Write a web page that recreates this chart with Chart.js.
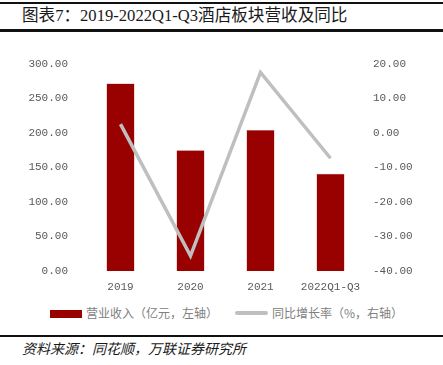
<!DOCTYPE html>
<html>
<head>
<meta charset="utf-8">
<script src="https://cdn.jsdelivr.net/npm/chart.js@4.4.0/dist/chart.umd.min.js"></script>
<style>
  html, body { margin:0; padding:0; background:#fff; }
  #wrap { position:relative; width:443px; height:365px; overflow:hidden; font-family:"Noto Sans CJK SC", sans-serif; }
  .rule { position:absolute; left:0; width:443px; background:#111; }
  #title { position:absolute; left:22px; top:6px; font-size:16.6px; color:#1a1a1a; white-space:nowrap;
           font-family:"Liberation Serif","Noto Sans CJK SC",serif; line-height:20px; }
  #chartBox { position:absolute; left:0; top:40px; width:443px; height:260px; }
  .lg { position:absolute; font-size:12px; color:#808080; white-space:nowrap; line-height:14px; }
  #src { position:absolute; left:22px; top:340px; font-size:14px; font-style:italic; color:#1a1a1a; white-space:nowrap; line-height:16px; }
</style>
</head>
<body>
<div id="wrap">
  <div class="rule" style="top:2px;height:2px;"></div>
  <div id="title">图表7：2019-2022Q1-Q3酒店板块营收及同比</div>
  <div class="rule" style="top:29px;height:3px;"></div>
  <div id="chartBox"><canvas id="c" width="443" height="260"></canvas></div>
  <div style="position:absolute;left:50px;top:310px;width:32px;height:8px;background:#990000;"></div>
  <div class="lg" style="left:86px;top:306px;">营业收入（亿元，左轴）</div>
  <div style="position:absolute;left:235px;top:311px;width:33px;height:4px;background:#bfbfbf;border-radius:2px;"></div>
  <div class="lg" style="left:272px;top:306px;">同比增长率（%，右轴）</div>
  <div class="rule" style="top:335px;height:2px;"></div>
  <div id="src">资料来源：同花顺，万联证券研究所</div>
</div>
<script>
  // categories + values
  const categories = ['2019', '2020', '2021', '2022Q1-Q3'];
  const revenue = [271.7, 175.2, 204.6, 141.1];   // 亿元, left axis
  const yoy = [2.6, -35.6, 17.6, -7.3];            // %, right axis
  const leftTicks = [0, 50, 100, 150, 200, 250, 300];
  const rightTicks = [-40, -30, -20, -10, 0, 10, 20];

  const tickFont = { family: 'Liberation Mono', size: 11 };
  const tickColor = '#595959';

  new Chart(document.getElementById('c'), {
    data: {
      labels: categories,
      datasets: [
        { type:'line', label:'同比增长率（%，右轴）', data: yoy, yAxisID:'y1', order:0,
          borderColor:'#bfbfbf', borderWidth:3.5, pointRadius:0, tension:0, fill:false },
        { type:'bar', label:'营业收入（亿元，左轴）', data: revenue, yAxisID:'y', order:1,
          backgroundColor:'#990000', borderColor:'#c06060', borderWidth:0.5,
          categoryPercentage:1, barPercentage:0.4 }
      ]
    },
    options: {
      responsive:false, animation:false,
      layout:{ padding:{ top:13.5, bottom:0, left:0, right:0 } },
      plugins:{ legend:{display:false}, tooltip:{enabled:false} },
      scales:{
        x:{
          grid:{ display:false, drawTicks:false }, border:{ display:false },
          ticks:{ color:tickColor, font:tickFont, padding:9, maxRotation:0 },
          afterFit(s){ s.height = 29; }
        },
        y:{
          position:'left', min:0, max:300,
          grid:{ display:false, drawTicks:false }, border:{ display:false },
          afterBuildTicks(s){ s.ticks = leftTicks.map(v => ({ value:v })); },
          ticks:{ color:tickColor, font:tickFont, padding:17.5, callback:v => v.toFixed(2) },
          afterFit(s){ s.width = 85.5; }
        },
        y1:{
          position:'right', min:-40, max:20,
          grid:{ display:false, drawTicks:false }, border:{ display:false },
          afterBuildTicks(s){ s.ticks = rightTicks.map(v => ({ value:v })); },
          ticks:{ color:tickColor, font:tickFont, padding:7.5, callback:v => v.toFixed(2) },
          afterFit(s){ s.width = 77.5; }
        }
      }
    }
  });
</script>
</body>
</html>
